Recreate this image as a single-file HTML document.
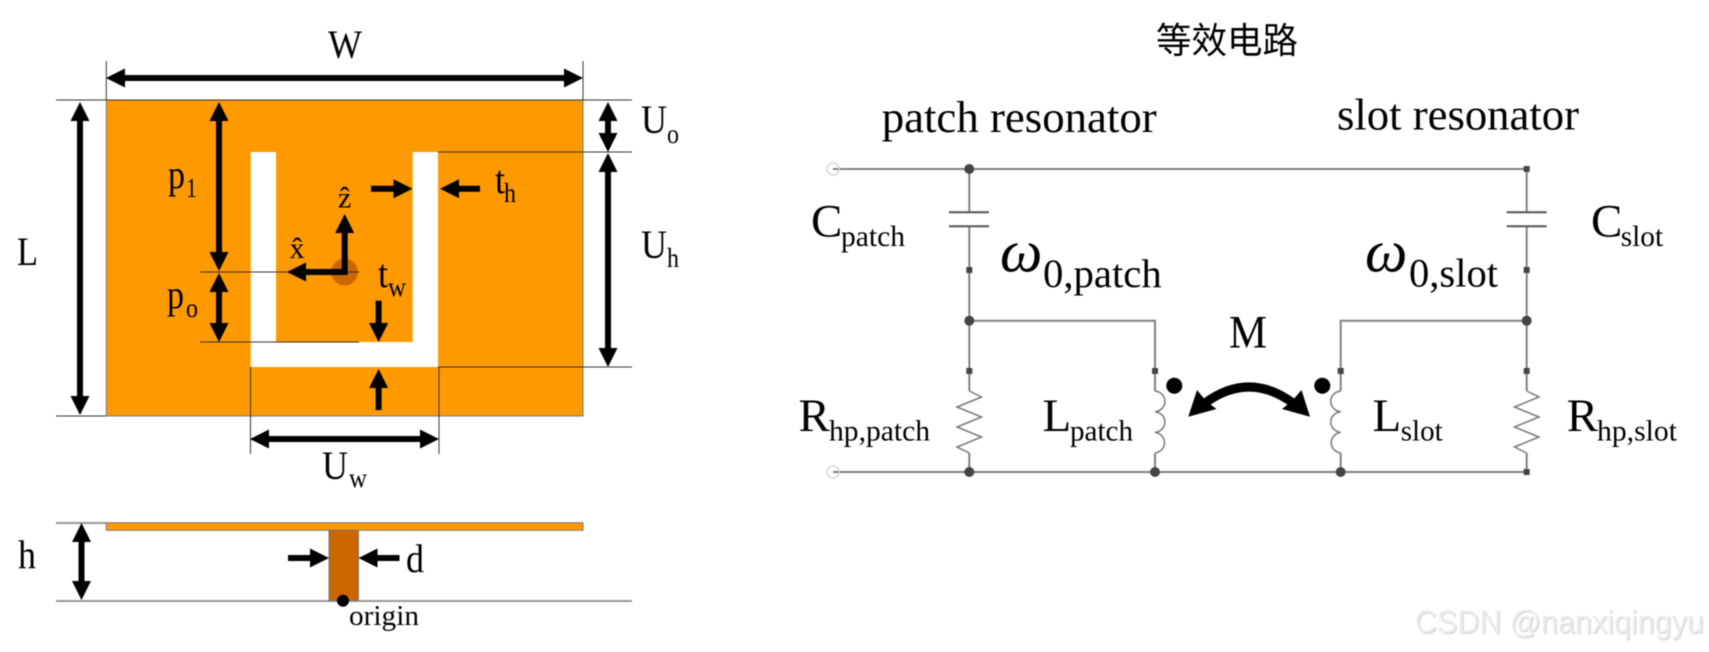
<!DOCTYPE html>
<html>
<head>
<meta charset="utf-8">
<style>
html,body{margin:0;padding:0;background:#fff;width:1709px;height:652px;overflow:hidden}
svg{display:block;filter:blur(.45px)}
text{font-family:"Liberation Serif","Noto Serif CJK SC",serif;fill:#000}
.a{font-size:40px}
.s{font-size:27px}
.b{font-size:47px}
.c{font-size:30px}
.t{stroke:#333;stroke-width:1;fill:none}
.k{stroke:#000;stroke-width:6;fill:none}
.w{stroke:#808080;stroke-width:2;fill:none}
.j{fill:#444}
</style>
</head>
<body>
<svg width="1709" height="652" viewBox="0 0 1709 652" xmlns="http://www.w3.org/2000/svg">
<defs>
<marker id="h" markerUnits="userSpaceOnUse" markerWidth="19" markerHeight="19" refX="4" refY="9.5" orient="auto-start-reverse"><path d="M0,0L19,9.5L0,19Z" fill="#000"/></marker>
</defs>

<!-- patch -->
<rect x="106.3" y="100" width="476.7" height="316" fill="#ff9900" stroke="#777" stroke-width="1"/>
<polygon points="250.7,152 276,152 276,342 412.7,342 412.7,152 438,152 438,367 250.7,367" fill="#fff"/>
<circle cx="344.5" cy="272" r="13.5" fill="#cc6600"/>

<!-- thin lines -->
<path class="t" d="M56,100H632M56,416H106M106.3,61V100M583,61V100M438,152H632M438,367H632M200,272H359M200,342H359M250.5,367V454M439,367V454"/>

<!-- dimension arrows -->
<path class="k" d="M121,78H568" marker-start="url(#h)" marker-end="url(#h)"/>
<path class="k" d="M80,117V400" marker-start="url(#h)" marker-end="url(#h)"/>
<path class="k" d="M219,117V256" marker-start="url(#h)" marker-end="url(#h)"/>
<path class="k" d="M219,288V327" marker-start="url(#h)" marker-end="url(#h)"/>
<path class="k" d="M608,117V137" marker-start="url(#h)" marker-end="url(#h)"/>
<path class="k" d="M608,168V352" marker-start="url(#h)" marker-end="url(#h)"/>
<path class="k" d="M265,439H424" marker-start="url(#h)" marker-end="url(#h)"/>
<path class="k" d="M371,188.7H397.5" marker-end="url(#h)"/>
<path class="k" d="M480,188.7H455" marker-end="url(#h)"/>
<path class="k" d="M378.6,300.7V327" marker-end="url(#h)"/>
<path class="k" d="M378.6,410V384" marker-end="url(#h)"/>
<path class="k" d="M344.7,229V272H302" marker-start="url(#h)" marker-end="url(#h)"/>

<!-- side view -->
<path d="M56,523H106M56,601H632" stroke="#999" stroke-width="2" fill="none"/>
<rect x="106.3" y="522.7" width="476.7" height="7.6" fill="#ff9900" stroke="#777" stroke-width="1"/>
<rect x="329" y="530.3" width="29.5" height="70.4" fill="#cc6600" stroke="#777" stroke-width="1"/>
<path class="k" d="M81.5,538V585" marker-start="url(#h)" marker-end="url(#h)"/>
<path class="k" d="M288,558H314" marker-end="url(#h)"/>
<path class="k" d="M399.5,558H373.5" marker-end="url(#h)"/>
<circle cx="343" cy="600.7" r="6" fill="#000"/>

<!-- left labels -->
<text class="a" x="328" y="58" textLength="34" lengthAdjust="spacingAndGlyphs">W</text>
<text class="a" x="17" y="265" textLength="21" lengthAdjust="spacingAndGlyphs">L</text>
<text class="a" x="168" y="188" textLength="17" lengthAdjust="spacingAndGlyphs">p</text><text class="s" x="186" y="197" textLength="11" lengthAdjust="spacingAndGlyphs">1</text>
<text class="a" x="167" y="308" textLength="17" lengthAdjust="spacingAndGlyphs">p</text><text class="s" x="186" y="317" textLength="12" lengthAdjust="spacingAndGlyphs">o</text>
<text class="a" x="641" y="133" textLength="26" lengthAdjust="spacingAndGlyphs">U</text><text class="s" x="667" y="143" textLength="12" lengthAdjust="spacingAndGlyphs">o</text>
<text class="a" x="641" y="258" textLength="26" lengthAdjust="spacingAndGlyphs">U</text><text class="s" x="667" y="267" textLength="12" lengthAdjust="spacingAndGlyphs">h</text>
<text class="a" x="495" y="193" textLength="10" lengthAdjust="spacingAndGlyphs">t</text><text class="s" x="504" y="202" textLength="12" lengthAdjust="spacingAndGlyphs">h</text>
<text class="a" x="378" y="287" textLength="10" lengthAdjust="spacingAndGlyphs">t</text><text class="s" x="388" y="296" textLength="18" lengthAdjust="spacingAndGlyphs">w</text>
<text x="297" y="258" font-size="30" text-anchor="middle">x&#770;</text>
<text x="344.7" y="207.7" font-size="30" text-anchor="middle">z&#770;</text>
<text class="a" x="322" y="479" textLength="26" lengthAdjust="spacingAndGlyphs">U</text><text class="s" x="349" y="487" textLength="18" lengthAdjust="spacingAndGlyphs">w</text>
<text class="a" x="18" y="568" textLength="18" lengthAdjust="spacingAndGlyphs">h</text>
<text class="a" x="406" y="572" textLength="18" lengthAdjust="spacingAndGlyphs">d</text>
<text x="349" y="625" font-size="28" textLength="70" lengthAdjust="spacingAndGlyphs">origin</text>

<!-- circuit wires -->
<path class="w" d="M833,169H1526.7M833,472H1526.7"/>
<path class="w" d="M969.3,169V212M969.3,226.5V391"/>
<path class="w" d="M1526.7,169V212M1526.7,226.5V391"/>
<path class="w" d="M969.3,320.7H1155V391M1526.7,320.7H1340.7V391"/>
<path class="w" d="M969.3,453V472M1526.7,453V472M1155,453V472M1340.7,453V472"/>
<path d="M949,212.3H989M949,226.3H989M1506.7,212.3H1546.7M1506.7,226.3H1546.7" stroke="#555" stroke-width="2" fill="none"/>
<circle cx="833" cy="169" r="6" fill="none" stroke="#d4d4d4" stroke-width="1.4"/>
<circle cx="833" cy="472" r="6" fill="none" stroke="#d4d4d4" stroke-width="1.4"/>

<!-- resistors -->
<path d="M969.3,391L981.5,397L957,407L981.5,417L957,427L981.5,437L957,447L969.3,453" fill="none" stroke="#777" stroke-width="1.5"/>
<path d="M1526.7,391L1539,397L1514.5,407L1539,417L1514.5,427L1539,437L1514.5,447L1526.7,453" fill="none" stroke="#777" stroke-width="1.5"/>
<!-- inductors -->
<path d="M1155,391A11,10.4 0 0 1 1155,411.7A11,10.4 0 0 1 1155,432.4A11,10.4 0 0 1 1155,453" fill="none" stroke="#777" stroke-width="1.5"/>
<path d="M1340.7,391A11,10.4 0 0 0 1340.7,411.7A11,10.4 0 0 0 1340.7,432.4A11,10.4 0 0 0 1340.7,453" fill="none" stroke="#777" stroke-width="1.5"/>

<!-- junctions -->
<g class="j">
<circle cx="969.3" cy="169" r="5"/>
<circle cx="969.3" cy="320.7" r="5"/>
<circle cx="1526.7" cy="320.7" r="5"/>
<circle cx="969.3" cy="472" r="5"/>
<circle cx="1155" cy="472" r="5"/>
<circle cx="1340.7" cy="472" r="5"/>
<rect x="1523.7" y="166" width="6" height="6"/>
<rect x="1523.7" y="469" width="6" height="6"/>
<rect x="966.3" y="267" width="6" height="6"/>
<rect x="1523.7" y="267" width="6" height="6"/>
<rect x="966.3" y="368" width="6" height="6"/>
<rect x="1152" y="368" width="6" height="6"/>
<rect x="1337.7" y="368" width="6" height="6"/>
<rect x="1523.7" y="368" width="6" height="6"/>
</g>

<!-- coupling -->
<circle cx="1174.3" cy="385.7" r="8" fill="#000"/>
<circle cx="1322.3" cy="385.7" r="8" fill="#000"/>
<path d="M1205,403Q1249,371 1293,403" fill="none" stroke="#000" stroke-width="9"/>
<polygon points="1188.3,416.7 1197,390 1206,401 1216.5,409" fill="#000"/>
<polygon points="1310,416.7 1301.5,390 1292,401 1282,409" fill="#000"/>

<!-- right labels -->
<text x="1156" y="53" font-size="36" style="font-family:'Noto Sans CJK SC',sans-serif;font-weight:400" textLength="142" lengthAdjust="spacingAndGlyphs">等效电路</text>
<text x="881.7" y="132" font-size="44.8" textLength="275" lengthAdjust="spacingAndGlyphs">patch resonator</text>
<text x="1337" y="129.3" font-size="44.8" textLength="242" lengthAdjust="spacingAndGlyphs">slot resonator</text>
<text class="b" x="1229" y="347.7" textLength="38" lengthAdjust="spacingAndGlyphs">M</text>

<text class="b" x="811" y="236.7">C</text><text class="c" x="841" y="246" textLength="64" lengthAdjust="spacingAndGlyphs">patch</text>
<text class="b" x="1591" y="236.7">C</text><text class="c" x="1620.7" y="246" textLength="42.5" lengthAdjust="spacingAndGlyphs">slot</text>

<text x="1000" y="271.7" font-size="60" font-style="italic">ω</text>
<text x="1043" y="287" font-size="40.5" textLength="118.7" lengthAdjust="spacingAndGlyphs">0,patch</text>
<text x="1365" y="271.7" font-size="60" font-style="italic">ω</text>
<text x="1409" y="286.7" font-size="40.5" textLength="89" lengthAdjust="spacingAndGlyphs">0,slot</text>

<text class="b" x="798.5" y="431">R</text><text class="c" x="829" y="440.7" textLength="101" lengthAdjust="spacingAndGlyphs">hp,patch</text>
<text class="b" x="1042.5" y="431">L</text><text class="c" x="1070" y="440.7" textLength="63" lengthAdjust="spacingAndGlyphs">patch</text>
<text class="b" x="1372.5" y="431">L</text><text class="c" x="1400.7" y="440.7" textLength="42" lengthAdjust="spacingAndGlyphs">slot</text>
<text class="b" x="1566.8" y="431">R</text><text class="c" x="1597" y="440.7" textLength="80" lengthAdjust="spacingAndGlyphs">hp,slot</text>

<!-- watermark -->
<text x="1416" y="634" font-size="32" textLength="289" lengthAdjust="spacingAndGlyphs" style="font-family:'Liberation Sans',sans-serif;fill:#c4c4c4" opacity=".7">CSDN @nanxiqingyu</text>
<text x="1415" y="633" font-size="32" textLength="289" lengthAdjust="spacingAndGlyphs" style="font-family:'Liberation Sans',sans-serif;fill:#ebebeb">CSDN @nanxiqingyu</text>
</svg>
</body>
</html>
